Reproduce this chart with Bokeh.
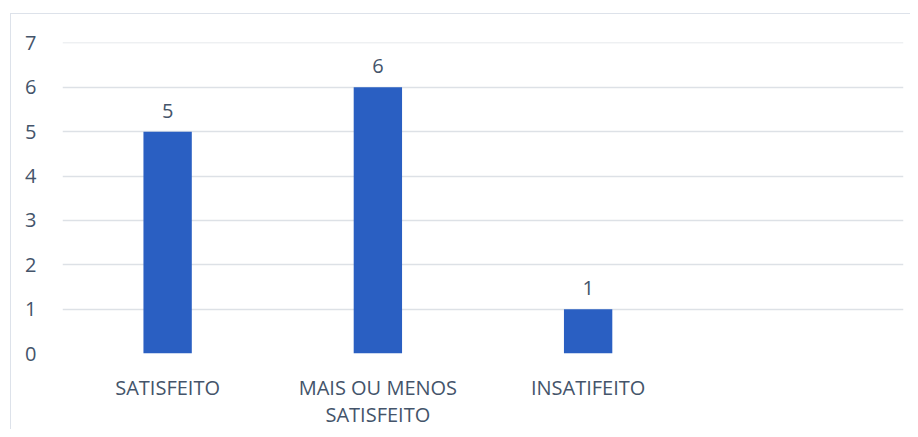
from bokeh.plotting import figure
from bokeh.models import ColumnDataSource, FixedTicker, LabelSet
from bokeh.core.properties import value
from bokeh.embed import file_html
from bokeh.resources import INLINE

categories = ["SATISFEITO", "MAIS OU MENOS\nSATISFEITO", "INSATIFEITO", " "]
bar_categories = ["SATISFEITO", "MAIS OU MENOS\nSATISFEITO", "INSATIFEITO"]
values = [5, 6, 1]
y_ticks = [0, 1, 2, 3, 4, 5, 6, 7]

FONT = "Open Sans"
TXT = "#44546a"

src = ColumnDataSource(dict(cat=bar_categories, val=values, lab=[str(v) for v in values]))

p = figure(x_range=categories, y_range=(0, 7.01), width=900, height=416,
           output_backend="svg", toolbar_location=None,
           min_border_left=51, min_border_right=8, min_border_top=28, min_border_bottom=74)
p.styles = {"margin-left": "10px", "margin-top": "13px",
            "border-left": "1.5px solid #dde2ea", "border-top": "1.5px solid #dde2ea"}
p.outline_line_color = None
p.background_fill_color = "white"
p.border_fill_color = "white"

p.vbar(x="cat", top="val", width=0.23, source=src, fill_color="#2a5fc2", line_color=None)

labels = LabelSet(x="cat", y="val", text="lab", source=src, text_align="center",
                  text_baseline="bottom", y_offset=14, text_font=value(FONT),
                  text_font_size="20px", text_color=TXT)
p.add_layout(labels)

p.ygrid.ticker = FixedTicker(ticks=y_ticks)
p.ygrid.grid_line_color = "#dde1e6"
p.ygrid.grid_line_width = 1.5
p.xgrid.grid_line_color = None

p.yaxis.ticker = FixedTicker(ticks=y_ticks)
p.yaxis.axis_line_color = None
p.yaxis.major_tick_line_color = None
p.yaxis.minor_tick_line_color = None
p.yaxis.major_label_standoff = 20
p.yaxis.major_label_text_font = FONT
p.yaxis.major_label_text_font_size = "20px"
p.yaxis.major_label_text_color = TXT

p.xaxis.axis_line_color = None
p.xaxis.major_tick_line_color = None
p.xaxis.minor_tick_line_color = None
p.xaxis.major_label_standoff = 14
p.xaxis.major_label_text_font = FONT
p.xaxis.major_label_text_font_size = "20px"
p.xaxis.major_label_text_color = TXT
p.xaxis.major_label_text_line_height = 1.0

open("out.html", "w").write(file_html(p, INLINE))
